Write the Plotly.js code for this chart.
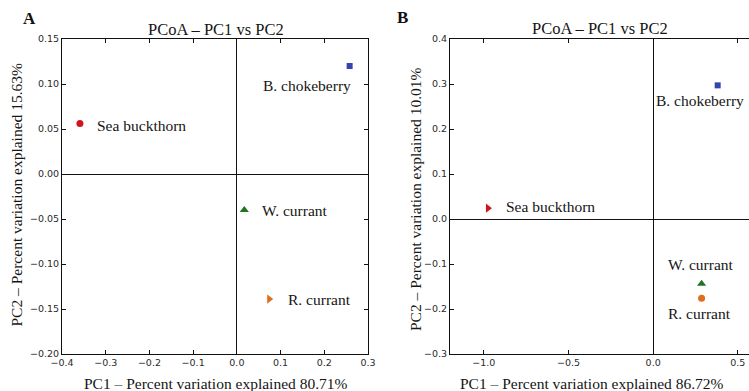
<!DOCTYPE html>
<html>
<head>
<meta charset="utf-8">
<script src="https://cdn.plot.ly/plotly-3.0.1.min.js"></script>
<style>
  html, body { margin: 0; padding: 0; background: #fff; overflow: hidden; }
  #chart { width: 749px; height: 391px; }
</style>
</head>
<body>
<div id="chart"></div>
<script>
// PCoA ordination of four berry samples, two separate analyses (A and B)
const species = ['Sea buckthorn', 'B. chokeberry', 'W. currant', 'R. currant'];
const colors  = ['#d2141f', '#3446ad', '#1f7424', '#de6f1c'];

// Panel A coordinates (PC1 explains 80.71 %, PC2 15.63 %)
const pc1A = [-0.359, 0.258, 0.017, 0.074];
const pc2A = [0.056, 0.120, -0.040, -0.139];
const symbolsA = ['circle', 'square', 'triangle-up', 'triangle-right'];

// Panel B coordinates (PC1 explains 86.72 %, PC2 10.01 %)
const pc1B = [-0.976, 0.381, 0.286, 0.286];
const pc2B = [0.024, 0.297, -0.144, -0.176];
const symbolsB = ['triangle-right', 'square', 'triangle-up', 'circle'];

const W = 749, H = 391;
const px = v => v / W;
const py = v => 1 - v / H;

const serif = 'Liberation Serif, Times New Roman, serif';
const sans = 'DejaVu Sans, sans-serif';

function sizes(symbols) {
  return symbols.map(s => s === 'square' ? 6 : (s === 'circle' ? 7 : 8));
}

const traces = [
  {
    x: pc1A, y: pc2A, xaxis: 'x', yaxis: 'y', type: 'scatter', mode: 'markers',
    marker: { color: colors, symbol: symbolsA, size: sizes(symbolsA), opacity: 1, line: { width: 0 } },
    hoverinfo: 'text', text: species
  },
  {
    x: pc1B, y: pc2B, xaxis: 'x2', yaxis: 'y2', type: 'scatter', mode: 'markers',
    marker: { color: colors, symbol: symbolsB, size: sizes(symbolsB), opacity: 1, line: { width: 0 } },
    hoverinfo: 'text', text: species
  }
];

const axisBase = {
  showgrid: false,
  showline: true, linecolor: '#111', linewidth: 1,
  ticks: 'inside', ticklen: 4, tickwidth: 1, tickcolor: '#111',
  zeroline: true, zerolinecolor: '#111', zerolinewidth: 1,
  tickfont: { family: sans, size: 9.5, color: '#2a2a2a' },
  fixedrange: true
};

// label offsets (pixels) relative to each point
const offA = [
  { xa: 'left', dx: 15, dy: -2 },
  { xa: 'right', dx: 3, dy: -19 },
  { xa: 'left', dx: 16, dy: 0 },
  { xa: 'left', dx: 17, dy: 0 }
];
const offB = [
  { xa: 'left', dx: 16, dy: 2 },
  { xa: 'left', dx: -64, dy: -15 },
  { xa: 'left', dx: -36, dy: 19 },
  { xa: 'left', dx: -36, dy: -15 }
];

const labelFont = { family: serif, size: 15.5, color: '#151515' };
const annotations = [];
species.forEach((name, i) => {
  annotations.push({
    xref: 'x', yref: 'y', x: pc1A[i], y: pc2A[i], text: name, showarrow: false,
    xanchor: offA[i].xa, yanchor: 'middle', xshift: offA[i].dx, yshift: offA[i].dy,
    font: labelFont
  });
  annotations.push({
    xref: 'x2', yref: 'y2', x: pc1B[i], y: pc2B[i], text: name, showarrow: false,
    xanchor: offB[i].xa, yanchor: 'middle', xshift: offB[i].dx, yshift: offB[i].dy,
    font: labelFont
  });
});

// panel letters, plot titles and axis titles
const paperText = (text, x, y, opts) => Object.assign({
  xref: 'paper', yref: 'paper', x: px(x), y: py(y), text: text, showarrow: false,
  xanchor: 'center', yanchor: 'middle', font: { family: serif, size: 15.5, color: '#151515' }
}, opts || {});

const titleFont = { family: serif, size: 16.5, color: '#151515' };
annotations.push(
  paperText('<b>A</b>', 29.5, 18, { font: { family: serif, size: 17, color: '#111' } }),
  paperText('<b>B</b>', 402, 17.5, { font: { family: serif, size: 17, color: '#111' } }),
  paperText('PCoA – PC1 vs PC2', 215.5, 29, { font: titleFont }),
  paperText('PCoA – PC1 vs PC2', 600, 28, { font: titleFont }),
  paperText('PC1 – Percent variation explained 80.71%', 215.5, 383.5),
  paperText('PC1 – Percent variation explained 86.72%', 592, 383),
  paperText('PC2 – Percent variation explained 15.63%', 15.5, 195, { textangle: -90 }),
  paperText('PC2 – Percent variation explained 10.01%', 415, 199, { textangle: -90 })
);

const layout = {
  width: W, height: H,
  margin: { l: 0, r: 0, t: 0, b: 0 },
  paper_bgcolor: '#fff', plot_bgcolor: '#fff',
  showlegend: false,
  xaxis: Object.assign({}, axisBase, {
    domain: [px(62), px(368)], range: [-0.4, 0.3], dtick: 0.1, tick0: 0,
    tickformat: '.1f', mirror: 'ticks', anchor: 'y', ticklabelstandoff: 0
  }),
  yaxis: Object.assign({}, axisBase, {
    domain: [py(354), py(39)], range: [-0.2, 0.15], dtick: 0.05, tick0: 0,
    tickformat: '.2f', mirror: 'ticks', anchor: 'x'
  }),
  xaxis2: Object.assign({}, axisBase, {
    domain: [px(450), 1], range: [-1.2, 0.566], dtick: 0.5, tick0: 0,
    tickformat: '.1f', mirror: 'ticks', anchor: 'y2', ticklabelstandoff: 0
  }),
  yaxis2: Object.assign({}, axisBase, {
    domain: [py(354), py(39)], range: [-0.3, 0.4], dtick: 0.1, tick0: 0,
    tickformat: '.1f', mirror: false, anchor: 'x2'
  }),
  annotations: annotations
};

Plotly.newPlot('chart', traces, layout, { displayModeBar: false, staticPlot: true });
</script>
</body>
</html>
